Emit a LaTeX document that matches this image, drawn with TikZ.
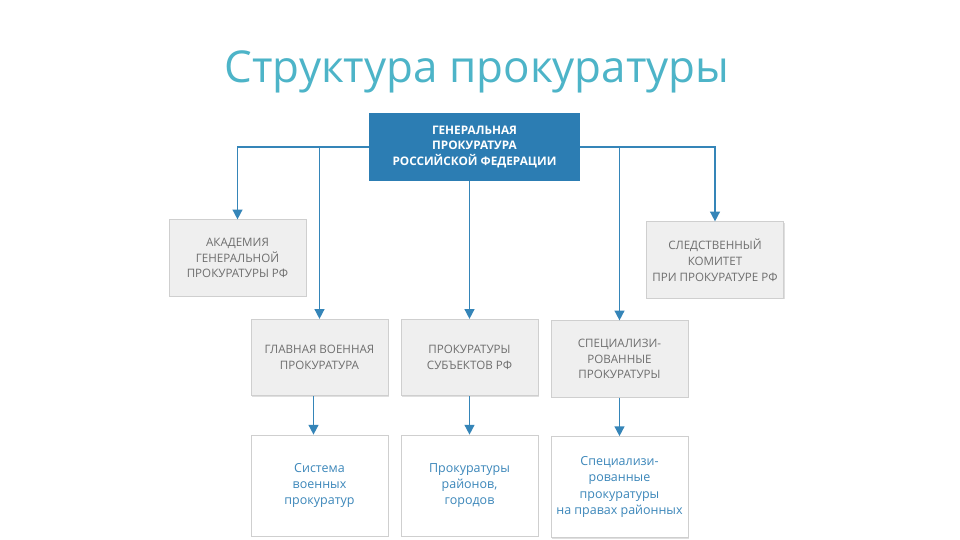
\documentclass[tikz,border=0pt]{standalone}
\usepackage{fontspec}
\setmainfont{Open Sans}
\usepackage{xcolor}
\usepackage{tikz}
\usetikzlibrary{arrows.meta,positioning,calc,shadows}
\definecolor{orgBlue}{HTML}{2C7DB3}
\definecolor{orgLine}{HTML}{3585B8}
\definecolor{orgTitle}{HTML}{4DB4C8}
\definecolor{orgText}{HTML}{3C87BA}
\definecolor{orgGray}{HTML}{EFEFEF}
\definecolor{orgEdge}{HTML}{CFCFCF}
\definecolor{orgInk}{HTML}{6E6E6E}

\begin{document}
\begin{tikzpicture}[x=0.02cm,y=-0.02cm,>={Triangle[width=5.5pt,length=5.5pt]},
  chief/.style={fill=orgBlue,text=white,minimum width=4.22cm,minimum height=1.36cm,align=center,inner sep=0pt,
    font=\fontsize{6.7pt}{9pt}\selectfont\bfseries},
  grey/.style={draw=orgEdge,fill=orgGray,text=orgInk,minimum width=2.74cm,minimum height=1.53cm,align=center,inner sep=0pt,
    font=\fontsize{6.6pt}{9pt}\selectfont,drop shadow={shadow xshift=0.6pt,shadow yshift=-0.6pt,opacity=0.25}},
  lower/.style={draw=orgEdge,fill=white,text=orgText,minimum width=2.74cm,minimum height=2.02cm,align=center,inner sep=0pt,
    font=\fontsize{7.1pt}{9.3pt}\selectfont,drop shadow={shadow xshift=0.6pt,shadow yshift=-0.6pt,opacity=0.25}},
  link/.style={->,draw=orgLine,line width=0.9pt}
]
  \useasboundingbox[fill=white] (0,0) rectangle (960,540);

  \node[anchor=base,text=orgTitle,font=\fontsize{25pt}{30pt}\selectfont] (title) at (477,83) {Структура прокуратуры};

  \node[chief] (gp) at (474.5,147) {ГЕНЕРАЛЬНАЯ\\ПРОКУРАТУРА\\РОССИЙСКОЙ ФЕДЕРАЦИИ};

  \node[grey] (acad) at (237.5,258) {АКАДЕМИЯ\\ГЕНЕРАЛЬНОЙ\\ПРОКУРАТУРЫ РФ};
  \node[grey] (sk) at (715,260) {СЛЕДСТВЕННЫЙ\\КОМИТЕТ\\ПРИ ПРОКУРАТУРЕ РФ};

  \node[grey] (mil) at (319.5,357.5) {ГЛАВНАЯ ВОЕННАЯ\\ПРОКУРАТУРА};
  \node[grey] (subj) at (469.5,357.5) {ПРОКУРАТУРЫ\\СУБЪЕКТОВ РФ};
  \node[grey] (spec) at (619.5,359) {СПЕЦИАЛИЗИ-\\РОВАННЫЕ\\ПРОКУРАТУРЫ};

  \node[lower] (milsys) at (319.5,485.5) {Система\\военных\\прокуратур};
  \node[lower] (dist) at (469.5,485.5) {Прокуратуры\\районов,\\городов};
  \node[lower] (specd) at (619.5,487) {Специализи-\\рованные\\прокуратуры\\на правах районных};

  \draw[link] (gp.west) -| (acad.north);
  \draw[link] (gp.west -| mil.north) -- (mil.north);
  \draw[link] (gp.south -| subj.north) -- (subj.north);
  \draw[link] (gp.east -| spec.north) -- (spec.north);
  \draw[link] (gp.east) -| (sk.north);

  \draw[link] ($(mil.south)+(-6,0)$) -- ($(milsys.north)+(-6,0)$);
  \draw[link] (subj.south) -- (dist.north);
  \draw[link] (spec.south) -- (specd.north);
\end{tikzpicture}
\end{document}
